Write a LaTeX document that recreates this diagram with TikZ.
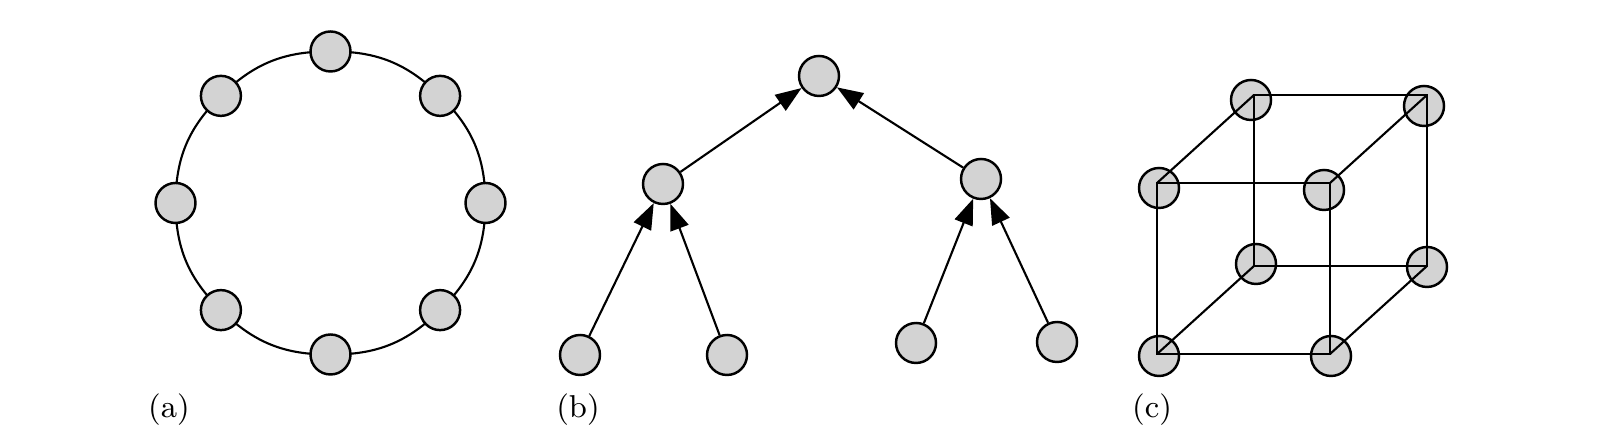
\documentclass[tikz,border=0pt]{standalone}
\usepackage{xcolor}
\definecolor{nodegray}{RGB}{211,211,211}
\usepackage{tikz}
\usetikzlibrary{positioning,arrows.meta,calc,backgrounds}

\begin{document}
\begin{tikzpicture}[x=1cm,y=1cm,font=\footnotesize,
  proc/.style={circle,draw,fill=nodegray,line width=0.7pt,minimum size=0.40cm,inner sep=0pt},
  link/.style={line width=0.6pt},
  up/.style={link,-{Triangle[length=2.6mm,width=1.9mm]}},
  tag/.style={inner sep=0pt,font=\small}]
  \useasboundingbox (0,0) rectangle (16,4.4);
  % (a) anillo de 8 nodos
  \begin{scope}[shift={(3.305,2.37)}]
    \foreach \a [count=\i from 0] in {0,45,...,315}{
      \node[proc] (r\i) at ({1.55*cos(\a)},{1.515*sin(\a)}) {};}
    \begin{scope}[on background layer]
      \foreach \i in {0,...,7}{
        \pgfmathtruncatemacro{\j}{mod(\i+1,8)}
        \draw[link] (r\i.center) to[bend right=22.5] (r\j.center);}
    \end{scope}
  \end{scope}
  \node[tag] (la) at (1.69,0.30) {(a)};
  % (b) arbol binario
  \node[proc] (root) at (8.19,3.64) {};
  \node[proc] (lmid) at (6.63,2.56) {};
  \node[proc] (rmid) at (9.81,2.61) {};
  \node[proc] (l1) at (5.80,0.85) {};
  \node[proc] (l2) at (7.27,0.85) {};
  \node[proc] (l3) at (9.16,0.97) {};
  \node[proc] (l4) at (10.57,0.98) {};
  \draw[up] (lmid) -- (root);
  \draw[up] (rmid) -- (root);
  \draw[up] (l1) -- (lmid);
  \draw[up] (l2) -- (lmid);
  \draw[up] (l3) -- (rmid);
  \draw[up] (l4) -- (rmid);
  \node[tag] (lb) at (5.78,0.30) {(b)};
  % (c) hipercubo: nodos y vertices
  \coordinate (vftl) at (11.57,2.57); \coordinate (vftr) at (13.30,2.57);
  \coordinate (vfbl) at (11.57,0.86); \coordinate (vfbr) at (13.30,0.86);
  \coordinate (vbtl) at (12.54,3.45); \coordinate (vbtr) at (14.27,3.45);
  \coordinate (vbbl) at (12.54,1.74); \coordinate (vbbr) at (14.27,1.74);
  \node[proc] (cftl) at (11.59,2.52) {};
  \node[proc] (cftr) at (13.24,2.50) {};
  \node[proc] (cfbl) at (11.59,0.84) {};
  \node[proc] (cfbr) at (13.31,0.84) {};
  \node[proc] (cbtl) at (12.51,3.40) {};
  \node[proc] (cbtr) at (14.24,3.34) {};
  \node[proc] (cbbl) at (12.56,1.76) {};
  \node[proc] (cbbr) at (14.27,1.73) {};
  \draw[link] (vftl) -- (vftr) -- (vfbr) -- (vfbl) -- cycle;
  \draw[link] (vbtl) -- (vbtr) -- (vbbr) -- (vbbl) -- cycle;
  \foreach \v in {tl,tr,bl,br}{\draw[link] (vf\v) -- (vb\v);}
  \node[tag] (lc) at (11.52,0.30) {(c)};
\end{tikzpicture}
\end{document}
